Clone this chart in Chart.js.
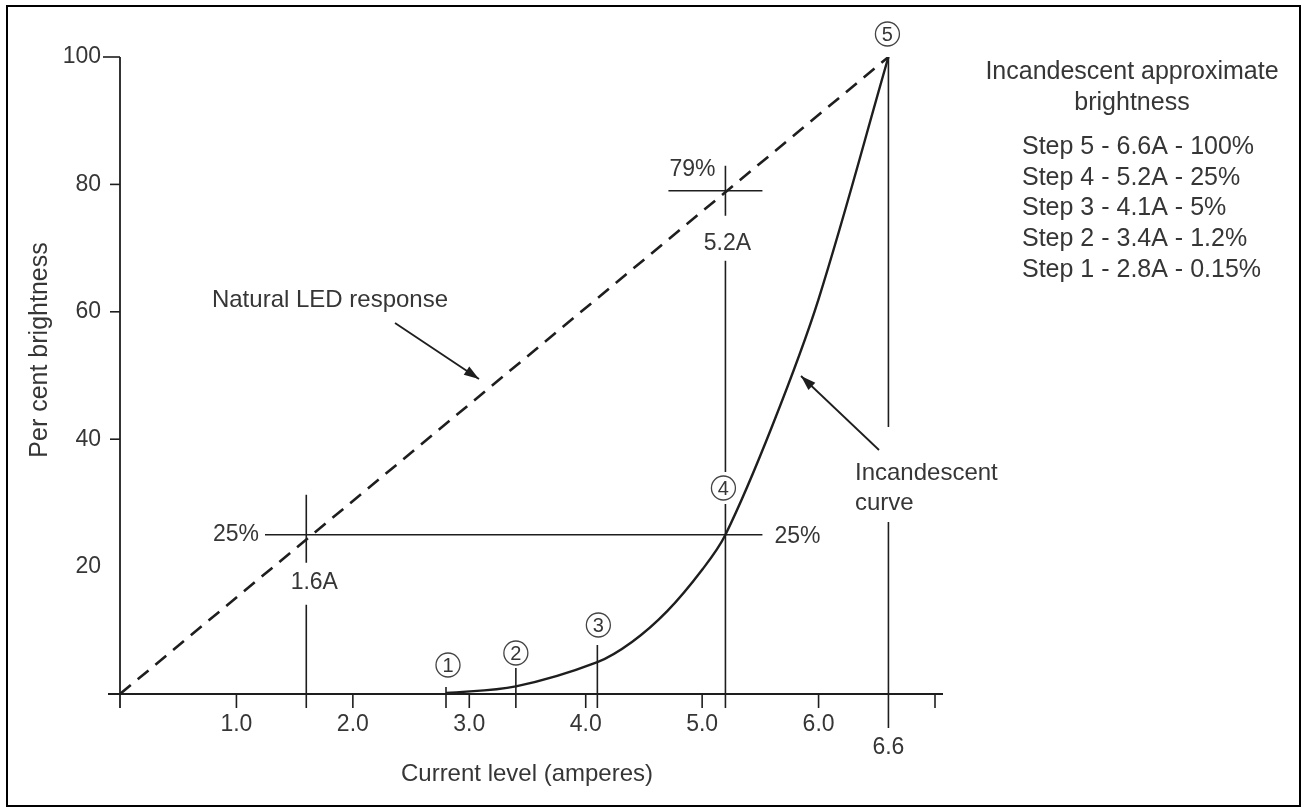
<!DOCTYPE html>
<html>
<head>
<meta charset="utf-8">
<script src="https://cdn.jsdelivr.net/npm/chart.js@4.4.0/dist/chart.umd.min.js"></script>
<style>
  html, body { margin: 0; padding: 0; background: #fff; }
  #wrap { position: relative; width: 1304px; height: 812px; }
</style>
</head>
<body>
<div id="wrap"><canvas id="brightnessChart" width="1304" height="812"></canvas></div>
<script>
// Current (A) and brightness (%) for the five dimmer steps
const stepNames = ['1', '2', '3', '4', '5'];
const stepAmps = [2.8, 3.4, 4.1, 5.2, 6.6];
const stepPercent = [0.15, 1.2, 5, 25, 100];

// Incandescent curve, read between the steps
const curveAmps = [2.8, 3.4, 4.1, 4.4, 4.7, 5.0, 5.2, 5.6, 6.0, 6.6];
const curvePercent = [0.15, 1.2, 5, 8.2, 13, 19.5, 25, 42, 62, 100];

// Natural (linear) LED response
const ledAmps = [0, 6.6];
const ledPercent = [0, 100];

// Axis ticks
const xTicks = [1, 2, 3, 4, 5, 6, 7];
const xTickLabels = ['1.0', '2.0', '3.0', '4.0', '5.0', '6.0', ''];
const yTicks = [20, 40, 60, 80, 100];
const yTickLabels = ['20', '40', '60', '80', '100'];
const yTickMarks = [40, 60, 80, 100];

// Call-outs on the LED line
const ledQuarterAmps = 1.6;
const ledQuarterPercent = 25;
const ledStep4Percent = 79;

const legendTitle = ['Incandescent approximate', 'brightness'];

const ink = '#1e1e1e';
const textInk = '#363636';
const fontFamily = '"Liberation Sans", Arial, Helvetica, sans-serif';

function seg(ctx, x1, y1, x2, y2, w) {
    ctx.beginPath();
    ctx.lineWidth = w || 1.6;
    ctx.strokeStyle = ink;
    ctx.moveTo(x1, y1);
    ctx.lineTo(x2, y2);
    ctx.stroke();
}

function arrow(ctx, x1, y1, x2, y2) {
    seg(ctx, x1, y1, x2, y2, 1.8);
    const a = Math.atan2(y2 - y1, x2 - x1);
    const len = 15, half = 5;
    ctx.beginPath();
    ctx.fillStyle = ink;
    ctx.moveTo(x2, y2);
    ctx.lineTo(x2 - len * Math.cos(a) + half * Math.sin(a), y2 - len * Math.sin(a) - half * Math.cos(a));
    ctx.lineTo(x2 - len * Math.cos(a) - half * Math.sin(a), y2 - len * Math.sin(a) + half * Math.cos(a));
    ctx.closePath();
    ctx.fill();
}

function text(ctx, str, x, y, size, align) {
    ctx.font = size + 'px ' + fontFamily;
    ctx.fillStyle = textInk;
    ctx.textAlign = align || 'center';
    ctx.textBaseline = 'middle';
    ctx.fillText(str, x, y);
}

function marker(ctx, label, x, y) {
    ctx.beginPath();
    ctx.lineWidth = 1.3;
    ctx.strokeStyle = '#444';
    ctx.arc(x, y, 12, 0, Math.PI * 2);
    ctx.stroke();
    text(ctx, label, x, y + 1, 20);
}

// Axes, ticks, guide lines and all the lettering
const figurePlugin = {
    id: 'figure',
    beforeDatasetsDraw(chart) {
        const ctx = chart.ctx;
        const xs = v => chart.scales.x.getPixelForValue(v);
        const ys = v => chart.scales.y.getPixelForValue(v);
        const x0 = xs(0), y0 = ys(0);
        ctx.save();

        // axes
        seg(ctx, x0 - 12, y0, xs(7) + 8, y0, 1.8);
        seg(ctx, x0, ys(100), x0, y0 + 14, 1.8);
        xTicks.forEach(v => seg(ctx, xs(v), y0, xs(v), y0 + 14));
        yTickMarks.forEach(v => seg(ctx, x0 - (v === 100 ? 17 : 10), ys(v), x0, ys(v)));

        // 25% cross line and 1.6A drop line
        const yq = ys(ledQuarterPercent), xq = xs(ledQuarterAmps);
        seg(ctx, 265, yq, xs(stepAmps[3]) + 37, yq);
        seg(ctx, xq, yq - 40, xq, yq + 28);
        seg(ctx, xq, yq + 70, xq, y0 + 14);

        // step drop lines
        const x1 = xs(stepAmps[0]), x2 = xs(stepAmps[1]), x3 = xs(stepAmps[2]);
        const x4 = xs(stepAmps[3]), x5 = xs(stepAmps[4]);
        seg(ctx, x1, y0 - 7, x1, y0 + 14);
        seg(ctx, x2, y0 - 26, x2, y0 + 14);
        seg(ctx, x3, y0 - 49, x3, y0 + 14);

        const y79 = ys(ledStep4Percent);
        seg(ctx, x4 - 57, y79, x4 + 37, y79);
        seg(ctx, x4, y79 - 25, x4, y79 + 25);
        seg(ctx, x4, y79 + 70, x4, 472);
        seg(ctx, x4, 504, x4, y0 + 14);

        seg(ctx, x5, ys(100), x5, 427);
        seg(ctx, x5, 522, x5, y0 + 34);
        ctx.restore();
    },
    afterDatasetsDraw(chart) {
        const ctx = chart.ctx;
        const xs = v => chart.scales.x.getPixelForValue(v);
        const ys = v => chart.scales.y.getPixelForValue(v);
        const x0 = xs(0), y0 = ys(0);
        ctx.save();

        // tick labels
        xTicks.forEach((v, i) => text(ctx, xTickLabels[i], xs(v), y0 + 31, 23));
        text(ctx, stepAmps[4].toFixed(1), xs(stepAmps[4]), y0 + 54, 23);
        yTicks.forEach((v, i) => text(ctx, yTickLabels[i], x0 - 19, ys(v), 23, 'right'));

        // axis titles
        text(ctx, 'Current level (amperes)', 527, 774, 24);
        ctx.save();
        ctx.translate(40, 350);
        ctx.rotate(-Math.PI / 2);
        text(ctx, 'Per cent brightness', 0, 0, 25);
        ctx.restore();

        // call-out values
        const yq = ys(ledQuarterPercent), xq = xs(ledQuarterAmps);
        text(ctx, ledQuarterPercent + '%', 236, yq, 23);
        text(ctx, ledQuarterPercent + '%', xs(stepAmps[3]) + 72, yq + 2, 23);
        text(ctx, ledQuarterAmps.toFixed(1) + 'A', xq + 8, yq + 48, 23);
        const x4 = xs(stepAmps[3]), y79 = ys(ledStep4Percent);
        text(ctx, ledStep4Percent + '%', x4 - 33, y79 - 21, 23);
        text(ctx, stepAmps[3].toFixed(1) + 'A', x4 + 2, y79 + 53, 23);

        // step markers
        marker(ctx, stepNames[0], xs(stepAmps[0]) + 2, y0 - 29);
        marker(ctx, stepNames[1], xs(stepAmps[1]), y0 - 41);
        marker(ctx, stepNames[2], xs(stepAmps[2]) + 1, y0 - 69);
        marker(ctx, stepNames[3], x4 - 2, 488);
        marker(ctx, stepNames[4], xs(stepAmps[4]) - 1, ys(100) - 23);

        // curve names with pointers
        text(ctx, 'Natural LED response', 330, 300, 24);
        arrow(ctx, 395, 323, 479, 379);
        text(ctx, 'Incandescent', 855, 473, 24, 'left');
        text(ctx, 'curve', 855, 503, 24, 'left');
        arrow(ctx, 879, 450, 801, 376);

        // step table
        text(ctx, legendTitle[0], 1132, 72, 25);
        text(ctx, legendTitle[1], 1132, 103, 25);
        for (let i = 4; i >= 0; i--) {
            const row = 'Step ' + stepNames[i] + ' - ' + stepAmps[i].toFixed(1) + 'A - ' + stepPercent[i] + '%';
            text(ctx, row, 1022, 147 + (4 - i) * 30.8, 25, 'left');
        }

        // frame
        ctx.lineWidth = 2;
        ctx.strokeStyle = '#000';
        ctx.strokeRect(7, 6, 1293, 800);
        ctx.restore();
    }
};

const ctx = document.getElementById('brightnessChart').getContext('2d');
new Chart(ctx, {
    type: 'scatter',
    data: {
        datasets: [{
            label: 'Natural LED response',
            data: ledAmps.map((a, i) => ({ x: a, y: ledPercent[i] })),
            showLine: true,
            borderColor: ink,
            borderWidth: 2.6,
            borderDash: [14, 9],
            pointRadius: 0
        }, {
            label: 'Incandescent curve',
            data: curveAmps.map((a, i) => ({ x: a, y: curvePercent[i] })),
            showLine: true,
            borderColor: ink,
            borderWidth: 2.4,
            tension: 0.35,
            pointRadius: 0
        }]
    },
    options: {
        responsive: false,
        animation: false,
        layout: { padding: { left: 120, right: 1304 - 935, top: 57, bottom: 812 - 694 } },
        plugins: { legend: { display: false }, tooltip: { enabled: false } },
        scales: {
            x: { type: 'linear', min: 0, max: 7, display: false },
            y: { min: 0, max: 100, display: false }
        }
    },
    plugins: [figurePlugin]
});
</script>
</body>
</html>
